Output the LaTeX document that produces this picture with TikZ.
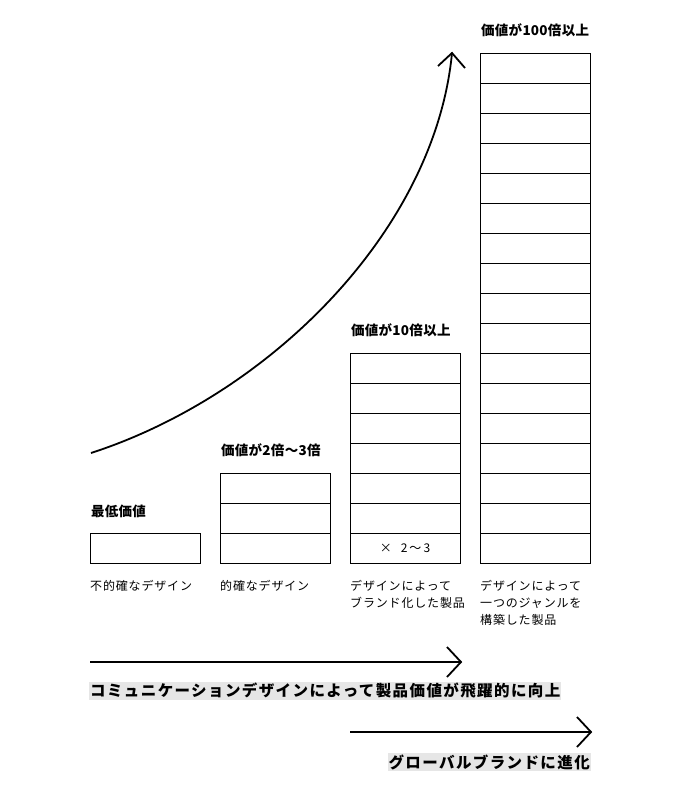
\documentclass[tikz,border=0pt]{standalone}
\usepackage{fontspec}
\setmainfont{Noto Sans CJK JP}
\definecolor{bandgray}{HTML}{E6E6E6}
\begin{document}
\begin{tikzpicture}[x=1pt,y=-1pt,
  cell/.style={draw=black, line width=0.9pt, minimum width=110pt, minimum height=30pt,
    inner sep=0pt, outer sep=0pt, anchor=north west,
    font=\fontsize{12}{14}\selectfont},
  head/.style={anchor=west, inner sep=0pt,
    font=\fontsize{13.5}{16}\selectfont\bfseries\addfontfeature{LetterSpace=2}},
  captext/.style={anchor=north west, align=left, inner sep=0pt,
    font=\fontsize{12}{17}\selectfont\addfontfeature{LetterSpace=7}},
  band/.style={fill=bandgray, inner xsep=1pt, inner ysep=1.8pt,
    font=\fontsize{15.5}{17}\selectfont\bfseries\addfontfeature{LetterSpace=9}},
  big/.style={line width=1.8pt}
]
\useasboundingbox (0,0) rectangle (700,790);

% column 1
\node[cell] (a1) at (90,533) {};
% column 2
\foreach \i in {1,2,3} \node[cell] (b\i) at (220,{563-30*\i}) {};
% column 3
\node[cell] (c1) at (350,533) {×\hspace{9pt}2\,〜\,3};
\foreach \i in {2,...,7} \node[cell] (c\i) at (350,{563-30*\i}) {};
% column 4
\foreach \i in {1,...,17} \node[cell] (d\i) at (480,{563-30*\i}) {};

% headings
\node[head] (h1) at (91,511) {最低価値};
\node[head] (h2) at (221,450) {価値が2倍〜3倍};
\node[head] (h3) at (351,330) {価値が10倍以上};
\node[head] (h4) at (481,30) {価値が100倍以上};

% captions
\node[captext] (t1) at (90,580) {不的確なデザイン};
\node[captext] (t2) at (220,580) {的確なデザイン};
\node[captext] (t3) at (350,580) {デザインによって\\ブランド化した製品};
\node[captext] (t4) at (480,580) {デザインによって\\一つのジャンルを\\構築した製品};

% growth curve
\coordinate (cs) at (91,453);
\coordinate (ce) at (452,53);
\coordinate (cl) at (438,66);
\coordinate (cr) at (465,68);
\draw[big] (cs) .. controls (270,395) and (435,230) .. (ce);
\draw[big] (cl) -- (ce) -- (cr);

% arrow 1
\coordinate (p1s) at (90,662);
\coordinate (p1e) at (461,662);
\coordinate (p1u) at (447,647);
\coordinate (p1d) at (447,677);
\draw[big] (p1s) -- (p1e);
\draw[big] (p1u) -- (p1e) -- (p1d);
\node[band, anchor=west] (l1) at (89,691) {コミュニケーションデザインによって製品価値が飛躍的に向上};

% arrow 2
\coordinate (p2s) at (350,732);
\coordinate (p2e) at (591,732);
\coordinate (p2u) at (577,717);
\coordinate (p2d) at (577,747);
\draw[big] (p2s) -- (p2e);
\draw[big] (p2u) -- (p2e) -- (p2d);
\node[band, anchor=east] (l2) at (591,762) {グローバルブランドに進化};
\end{tikzpicture}
\end{document}
